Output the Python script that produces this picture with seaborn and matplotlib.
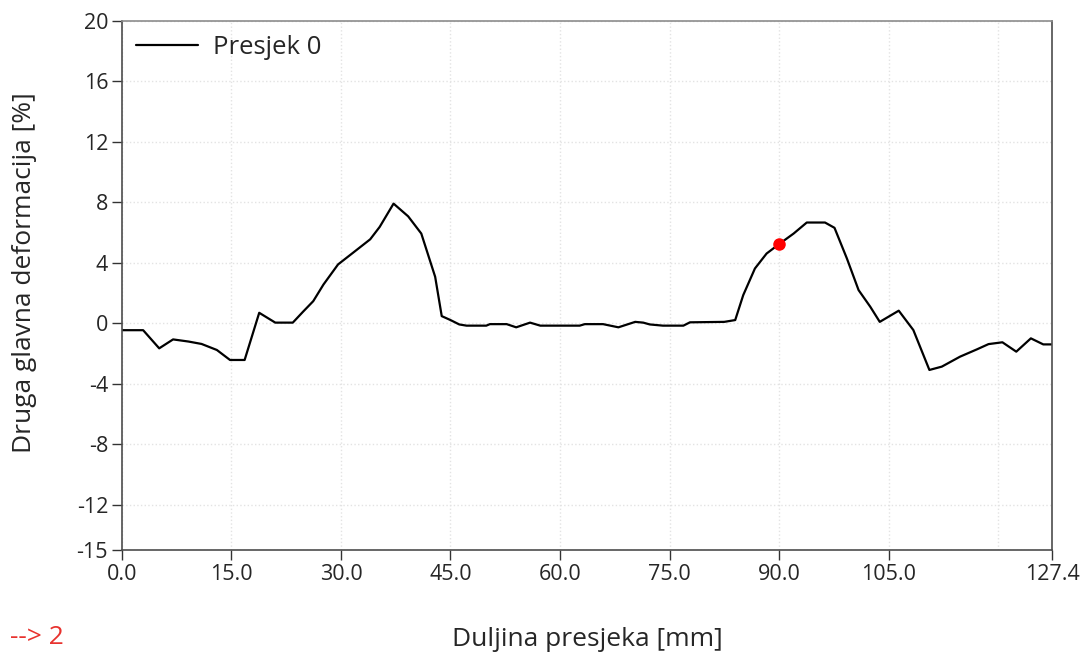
import numpy as np
import pandas as pd
import matplotlib
matplotlib.use('Agg')
import matplotlib.pyplot as plt
import seaborn as sns

# Profile of the section
duljina_mm = [0.0, 2.9, 5.1, 7.0, 9.1, 10.9, 13.0, 14.8, 16.8, 18.8, 21.0, 23.4,
              24.8, 26.2, 27.6, 29.6, 31.7, 34.0, 35.3, 37.2, 39.2, 41.0, 42.9,
              43.8, 45.0, 46.2, 47.2, 49.9, 50.4, 52.7, 54.0, 55.9, 57.3, 62.7,
              63.4, 65.9, 66.4, 68.0, 70.3, 71.4, 72.3, 74.1, 76.9, 77.8, 82.5,
              84.0, 85.1, 86.7, 88.3, 90.0, 92.0, 93.8, 96.3, 97.6, 99.3, 100.9,
              102.5, 103.8, 106.4, 108.4, 110.6, 112.3, 114.8, 117.1, 118.7,
              120.6, 122.5, 124.5, 126.2, 127.4]
deformacija = [-0.45, -0.45, -1.65, -1.06, -1.2, -1.36, -1.76, -2.42, -2.42, 0.7,
               0.05, 0.05, 0.77, 1.47, 2.57, 3.9, 4.69, 5.56, 6.38, 7.92, 7.08,
               5.94, 3.08, 0.48, 0.22, -0.07, -0.15, -0.15, -0.05, -0.05, -0.26,
               0.05, -0.15, -0.15, -0.05, -0.05, -0.1, -0.26, 0.1, 0.05, -0.07,
               -0.15, -0.15, 0.07, 0.1, 0.22, 1.87, 3.63, 4.62, 5.24, 5.94, 6.67,
               6.67, 6.32, 4.29, 2.2, 1.1, 0.1, 0.84, -0.44, -3.08, -2.86, -2.2,
               -1.72, -1.37, -1.25, -1.87, -0.99, -1.39, -1.39]

# marked point
tocka_x = [90.0]
tocka_y = [5.24]

x_ticks = [0.0, 15.0, 30.0, 45.0, 60.0, 75.0, 90.0, 105.0, 127.4]
x_grid = [0, 15, 30, 45, 60, 75, 90, 105, 120]
y_ticks = [20, 16, 12, 8, 4, 0, -4, -8, -12, -15]

df = pd.DataFrame({'x': duljina_mm, 'y': deformacija})

sns.set_style('white')
plt.rcParams['font.family'] = ['Open Sans', 'DejaVu Sans']

fig = plt.figure(figsize=(10.91, 6.55), dpi=100)
ax = fig.add_axes([0.1118, 0.160, 0.8525, 0.808])

# light dotted grid
for gx in x_grid:
    ax.axvline(gx, color='#e3e3e3', lw=1, ls=':', zorder=0)
for gy in y_ticks:
    ax.axhline(gy, color='#e3e3e3', lw=1, ls=':', zorder=0)

sns.lineplot(data=df, x='x', y='y', ax=ax, color='black', lw=1.6,
             label='Presjek 0', sort=False)
ax.plot(tocka_x, tocka_y, 'o', color='#ff0000', markersize=8, zorder=5)

ax.set_xlim(0, 127.4)
ax.set_ylim(-15, 20)
ax.set_xticks(x_ticks)
ax.set_xticklabels([f'{t:.1f}' for t in x_ticks])
ax.set_yticks(y_ticks)
ax.set_yticklabels([str(t) for t in y_ticks])
ax.tick_params(axis='both', direction='out', length=7, width=1,
               color='#333333', labelsize=15.5, pad=3,
               bottom=True, left=True)

for side in ['left', 'bottom', 'right']:
    ax.spines[side].set_color('#4d4d4d')
    ax.spines[side].set_linewidth(1.2)
ax.spines['top'].set_color('#8c8c8c')
ax.spines['top'].set_linewidth(1.2)

ax.set_xlabel('Duljina presjeka [mm]', fontsize=19, labelpad=30)
ax.set_ylabel('Druga glavna deformacija [%]', fontsize=19)
ax.yaxis.set_label_coords(-0.091, 0.524)

leg = ax.legend(loc='upper left', frameon=False, fontsize=18.5,
                handlelength=2.4, handletextpad=0.6, borderaxespad=0.15)

fig.text(0.009, 0.008, '--> 2', color='#e8322e', fontsize=19, ha='left', va='bottom')

fig.savefig('out.png', dpi=100)
